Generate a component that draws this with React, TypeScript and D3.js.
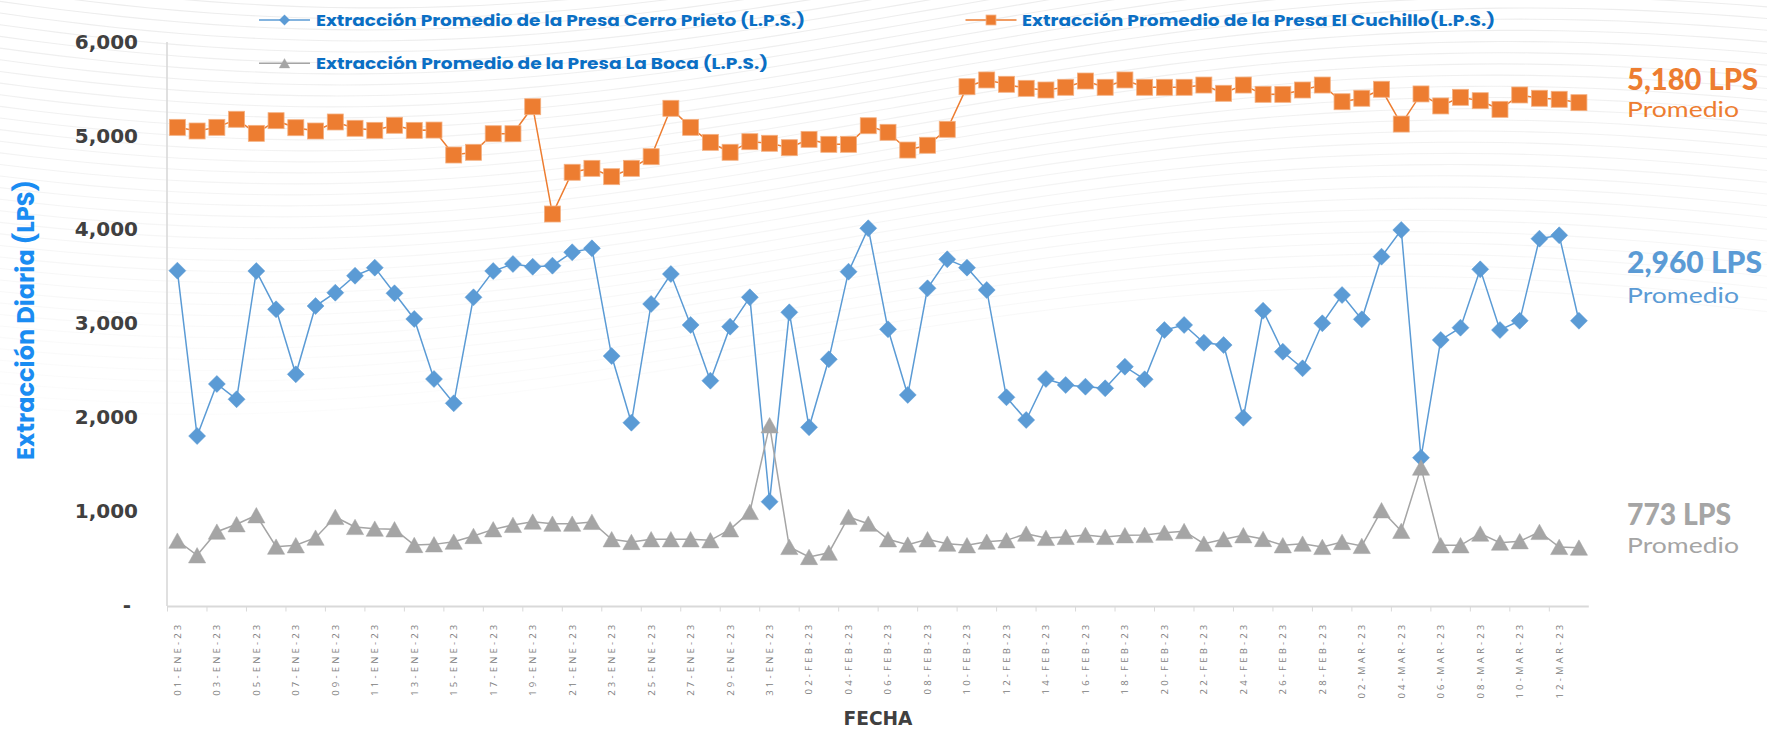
import React from "react";
import * as d3 from "d3";

const fechas = [
  "01-ENE-23","02-ENE-23","03-ENE-23","04-ENE-23","05-ENE-23","06-ENE-23","07-ENE-23","08-ENE-23","09-ENE-23","10-ENE-23",
  "11-ENE-23","12-ENE-23","13-ENE-23","14-ENE-23","15-ENE-23","16-ENE-23","17-ENE-23","18-ENE-23","19-ENE-23","20-ENE-23",
  "21-ENE-23","22-ENE-23","23-ENE-23","24-ENE-23","25-ENE-23","26-ENE-23","27-ENE-23","28-ENE-23","29-ENE-23","30-ENE-23",
  "31-ENE-23","01-FEB-23","02-FEB-23","03-FEB-23","04-FEB-23","05-FEB-23","06-FEB-23","07-FEB-23","08-FEB-23","09-FEB-23",
  "10-FEB-23","11-FEB-23","12-FEB-23","13-FEB-23","14-FEB-23","15-FEB-23","16-FEB-23","17-FEB-23","18-FEB-23","19-FEB-23",
  "20-FEB-23","21-FEB-23","22-FEB-23","23-FEB-23","24-FEB-23","25-FEB-23","26-FEB-23","27-FEB-23","28-FEB-23","01-MAR-23",
  "02-MAR-23","03-MAR-23","04-MAR-23","05-MAR-23","06-MAR-23","07-MAR-23","08-MAR-23","09-MAR-23","10-MAR-23","11-MAR-23",
  "12-MAR-23","13-MAR-23",
];

const cerroPrieto = [
  3559, 1796, 2351, 2188, 3555, 3147, 2454, 3182, 3324, 3505,
  3591, 3318, 3044, 2404, 2145, 3275, 3555, 3630, 3601, 3612,
  3755, 3797, 2649, 1938, 3204, 3523, 2980, 2386, 2962, 3275,
  1096, 3115, 1889, 2614, 3548, 4011, 2934, 2234, 3371, 3680,
  3591, 3353, 2209, 1967, 2404, 2340, 2322, 2305, 2535, 2401,
  2926, 2980, 2791, 2766, 1991, 3132, 2695, 2518, 2998, 3299,
  3040, 3708, 3993, 1565, 2820, 2951, 3573, 2926, 3025, 3900,
  3936, 3025,
];

const elCuchillo = [
  5087, 5048, 5087, 5173, 5023, 5158, 5083, 5048, 5144, 5077,
  5055, 5109, 5055, 5058, 4792, 4821, 5019, 5019, 5307, 4163,
  4608, 4650, 4561, 4650, 4774, 5290, 5087, 4927, 4821, 4934,
  4917, 4870, 4959, 4906, 4906, 5104, 5034, 4845, 4896, 5066,
  5520, 5592, 5546, 5503, 5485, 5514, 5581, 5514, 5592, 5514,
  5514, 5514, 5538, 5450, 5538, 5439, 5439, 5485, 5538, 5360,
  5397, 5493, 5122, 5443, 5315, 5407, 5371, 5279, 5432, 5397,
  5386, 5350,
];

const laBoca = [
  680, 524, 776, 855, 951, 616, 631, 712, 933, 826,
  808, 801, 634, 641, 669, 730, 801, 848, 883, 861,
  861, 880, 695, 666, 695, 695, 695, 684, 801, 986,
  1910, 613, 506, 552, 933, 861, 695, 638, 695, 648,
  631, 669, 684, 755, 709, 720, 741, 720, 738, 741,
  765, 782, 648, 695, 738, 698, 631, 648, 613, 666,
  624, 1004, 784, 1459, 631, 631, 755, 659, 674, 773,
  613, 606,
];

const yTicks = [0, 1000, 2000, 3000, 4000, 5000, 6000];

const seriesNames = [
  "Extracción Promedio de la Presa Cerro Prieto (L.P.S.)",
  "Extracción Promedio de la Presa El Cuchillo(L.P.S.)",
  "Extracción Promedio de la Presa La Boca (L.P.S.)",
];

const promedioValores = ["5,180 LPS", "2,960 LPS", "773 LPS"];
const promedioTexto = "Promedio";

const W = 1767;
const H = 731;

const BLUE = "#5B9BD5";
const ORANGE = "#ED7D31";
const GRAY = "#A5A5A5";
const LEGEND_BLUE = "#0B6FC4";
const TITLE_BLUE = "#1A8CF2";
const FONT = "Poppins, 'Open Sans', 'DejaVu Sans', sans-serif";

const diamond = "M0,-8.5L8.5,0L0,8.5L-8.5,0Z";
const triangle = "M0,-7.8L8.6,7.6L-8.6,7.6Z";

function Marker({ kind, x, y, s = 1 }: { kind: string; x: number; y: number; s?: number }) {
  if (kind === "diamond")
    return <path d={diamond} transform={`translate(${x},${y}) scale(${s})`} fill={BLUE} stroke={BLUE} strokeWidth={0.5} />;
  if (kind === "square")
    return (
      <rect x={x - 8 * s} y={y - 8 * s} width={16 * s} height={16 * s} fill={ORANGE} stroke="#F4B183" strokeWidth={0.8} />
    );
  return <path d={triangle} transform={`translate(${x},${y}) scale(${s})`} fill={GRAY} stroke={GRAY} strokeWidth={0.5} />;
}

// purely decorative background texture (faint wavy lines)
function Waves() {
  const xs = d3.range(-60, W + 90, 30);
  const lines = d3.range(0, 46).map((i) => {
    const gen = d3
      .line<number>()
      .x((d) => d)
      .y((d) => -170 + i * 11 + 55 * Math.sin(d / 360 + 0.4 + i * 0.015) + 35 * Math.sin(d / 950 + 1.2));
    return gen.curve(d3.curveBasis)(xs) as string;
  });
  return (
    <g>
      <defs>
        <linearGradient id="waveFade" x1="0" y1="0" x2="0" y2="1">
          <stop offset="0" stopColor="#ffffff" stopOpacity={0} />
          <stop offset="0.55" stopColor="#ffffff" stopOpacity={0.85} />
          <stop offset="1" stopColor="#ffffff" stopOpacity={1} />
        </linearGradient>
      </defs>
      {lines.map((d, i) => (
        <path key={i} d={d} fill="none" stroke="#EDEDED" strokeWidth={1.1} />
      ))}
      <rect x={0} y={0} width={W} height={H} fill="url(#waveFade)" />
    </g>
  );
}

export default function App() {
  const x = d3.scaleBand<string>().domain(fechas).range([167.5, 1588.8]).padding(0);
  const y = d3.scaleLinear().domain([0, 6000]).range([604.5, 41.7]);
  const bw = x.bandwidth();
  const cx = (i: number) => (x(fechas[i]) as number) + bw / 2;

  const line = d3
    .line<number>()
    .x((_, i) => cx(i))
    .y((d) => y(d));

  const series = [
    { data: cerroPrieto, color: BLUE, kind: "diamond" },
    { data: elCuchillo, color: ORANGE, kind: "square" },
    { data: laBoca, color: GRAY, kind: "triangle" },
  ];

  const tickIdx = fechas.map((_, i) => i).filter((i) => i % 2 === 0);

  const legendItems = [
    { name: seriesNames[0], color: BLUE, kind: "diamond", lx: 259, ly: 20, tx: 316, tl: 489 },
    { name: seriesNames[1], color: ORANGE, kind: "square", lx: 965.5, ly: 20, tx: 1022, tl: 473 },
    { name: seriesNames[2], color: GRAY, kind: "triangle", lx: 259, ly: 63.3, tx: 316, tl: 452 },
  ];

  const annots = [
    { v: promedioValores[0], color: ORANGE, y1: 90, y2: 117.3, tl: 131 },
    { v: promedioValores[1], color: BLUE, y1: 273.3, y2: 302.7, tl: 135 },
    { v: promedioValores[2], color: GRAY, y1: 525, y2: 552.7, tl: 104 },
  ];

  return (
    <svg
      width={W}
      height={H}
      viewBox={`0 0 ${W} ${H}`}
      style={{ position: "absolute", left: 0, top: 0, background: "#ffffff" }}
      fontFamily={FONT}
    >
      <rect x={0} y={0} width={W} height={H} fill="#ffffff" />
      <Waves />

      {/* Axes */}
      <line x1={167} x2={167} y1={42} y2={606} stroke="#D9D9D9" strokeWidth={1.6} />
      <line x1={167} x2={1588.8} y1={606.5} y2={606.5} stroke="#D9D9D9" strokeWidth={1.8} />
      {tickIdx.map((i) => (
        <line
          key={"t" + i}
          x1={x(fechas[i]) as number}
          x2={x(fechas[i]) as number}
          y1={606}
          y2={611.5}
          stroke="#D9D9D9"
          strokeWidth={1}
        />
      ))}

      {/* Y tick labels */}
      {yTicks.map((t) => (
        <text
          key={"y" + t}
          x={t === 0 ? 131 : 138}
          y={y(t)}
          dy="0.35em"
          textAnchor="end"
          fontSize={20}
          fontWeight={700}
          fill="#404040"
          fontFamily="'DejaVu Sans', sans-serif"
        >
          {t === 0 ? "-" : d3.format(",")(t)}
        </text>
      ))}

      {/* X tick labels */}
      {tickIdx.map((i) => (
        <text
          key={"x" + i}
          transform={`translate(${cx(i)},621.5) rotate(-90)`}
          dy="0.36em"
          textAnchor="end"
          fontSize={9.5}
          letterSpacing={3.2}
          fill="#808080"
          fontFamily="'Open Sans', sans-serif"
        >
          {fechas[i]}
        </text>
      ))}

      {/* Axis titles */}
      <text
        transform="translate(33.5,320) rotate(-90)"
        textAnchor="middle"
        fontSize={24}
        fontWeight={700}
        fill={TITLE_BLUE}
        textLength={280}
        lengthAdjust="spacingAndGlyphs"
      >
        Extracción Diaria (LPS)
      </text>
      <text
        x={878}
        y={725}
        textAnchor="middle"
        fontSize={20}
        fontWeight={700}
        fill="#404040"
        fontFamily="'Liberation Sans Narrow', 'Arial Narrow', 'DejaVu Sans Condensed', sans-serif"
        fontStretch="condensed"
        textLength={69}
        lengthAdjust="spacingAndGlyphs"
      >
        FECHA
      </text>

      {/* Series lines and markers */}
      {series.map((s, si) => (
        <g key={"s" + si}>
          <path d={line(s.data) as string} fill="none" stroke={s.color} strokeWidth={1.5} />
          {s.data.map((v, i) => (
            <Marker key={i} kind={s.kind} x={cx(i)} y={y(v)} />
          ))}
        </g>
      ))}

      {/* Legend */}
      {legendItems.map((l, i) => (
        <g key={"l" + i}>
          <line x1={l.lx} x2={l.lx + 51} y1={l.ly} y2={l.ly} stroke={l.color} strokeWidth={1.5} />
          <Marker kind={l.kind} x={l.lx + 25.5} y={l.ly} s={0.62} />
          <text
            x={l.tx}
            y={l.ly + 5.8}
            fontSize={16.5}
            fontWeight={700}
            fill={LEGEND_BLUE}
            textLength={l.tl}
            lengthAdjust="spacingAndGlyphs"
          >
            {l.name}
          </text>
        </g>
      ))}

      {/* Average annotations */}
      {annots.map((a, i) => (
        <g key={"a" + i} fontFamily="Lato, 'Open Sans', sans-serif">
          <text
            x={1627}
            y={a.y1}
            fontSize={30}
            fontWeight={900}
            fill={a.color}
            textLength={a.tl}
            lengthAdjust="spacingAndGlyphs"
          >
            {a.v}
          </text>
          <text
            x={1627}
            y={a.y2}
            fontSize={21}
            fontWeight={400}
            fill={a.color}
            textLength={112}
            lengthAdjust="spacingAndGlyphs"
          >
            {promedioTexto}
          </text>
        </g>
      ))}
    </svg>
  );
}
